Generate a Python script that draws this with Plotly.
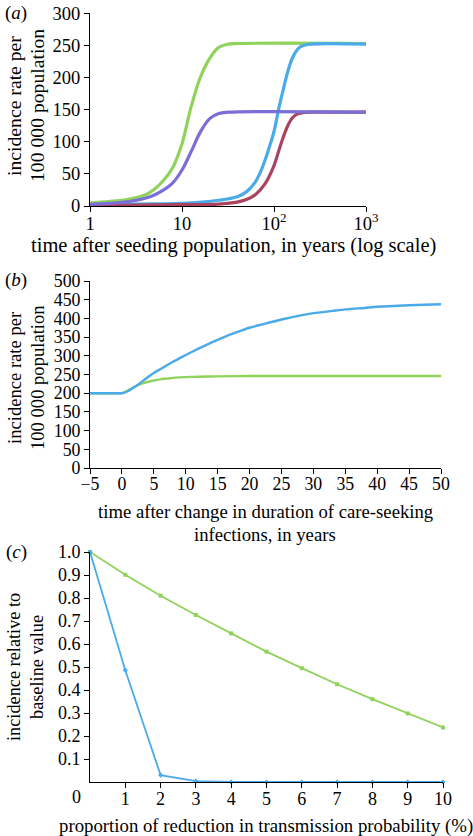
import plotly.graph_objects as go

W, H = 473, 836

# ---------------- data ----------------
# panel (a): incidence vs time after seeding (log scale)
a_green_t = [1, 1.58, 2.51, 3.98, 5.01, 6.31, 7.94, 10, 12.6, 15.8, 20, 25.1, 31.6, 39.8, 1000]
a_green_v = [5, 7, 10, 17, 26, 40, 60, 97, 155, 200, 230, 247, 252, 253, 253]
a_purple_t = [1, 1.58, 2.51, 3.98, 5.01, 6.31, 7.94, 10, 12.6, 15.8, 20, 25.1, 31.6, 1000]
a_purple_v = [2.6, 4, 6.5, 12, 17, 25, 36, 56, 85, 115, 136, 144, 146, 146]
a_blue_t = [1, 3.16, 10, 25.1, 39.8, 50.1, 63.1, 70.8, 79.4, 89.1, 100, 112, 126, 141, 158, 178, 200, 251, 1000]
a_blue_v = [1.5, 3, 4, 9, 14.5, 22, 38, 52, 70, 92, 116, 150, 181, 209, 230, 243, 249, 252, 252]
a_red_t = [1, 10, 25.1, 39.8, 50.1, 63.1, 79.4, 100, 112, 126, 141, 158, 178, 200, 251, 1000]
a_red_v = [0.5, 2, 3, 6, 10, 18, 34, 63, 85, 107, 125, 137, 143, 145, 146, 146]
a_xticks = [1, 10, 100, 1000]
a_xticktext = ["1", "10", "10<sup>2</sup>", "10<sup>3</sup>"]
a_yticks = [0, 50, 100, 150, 200, 250, 300]

# panel (b): incidence after change in duration of care-seeking infections
b_blue_t = [-5, -4, -3, -2, -1, 0, 1, 2, 3, 4, 5, 6, 7, 8, 9, 10, 12, 14, 16, 18, 20, 22, 25, 28, 30, 33, 35, 38, 40, 45, 50]
b_blue_v = [200, 200, 200, 200, 200, 200, 206, 217, 229, 242, 254, 264, 274, 284, 293, 302, 319, 335, 350, 363, 375, 384, 397, 408, 414, 420, 424, 428, 431, 435, 438]
b_green_t = [-5, -4, -3, -2, -1, 0, 1, 2, 3, 4, 5, 6, 7, 8, 10, 12, 15, 20, 30, 40, 50]
b_green_v = [200, 200, 200, 200, 200, 200, 208, 217, 225, 230, 234, 237, 239, 241, 243, 244, 245, 246, 246, 246, 246]
b_xticks = [-5, 0, 5, 10, 15, 20, 25, 30, 35, 40, 45, 50]
b_yticks = [0, 50, 100, 150, 200, 250, 300, 350, 400, 450, 500]

# panel (c): incidence relative to baseline vs reduction in transmission probability
c_x = [0, 1, 2, 3, 4, 5, 6, 7, 8, 9, 10]
c_green = [1.0, 0.901, 0.810, 0.726, 0.646, 0.567, 0.495, 0.425, 0.360, 0.298, 0.237]
c_blue = [1.0, 0.486, 0.030, 0.004, 0.0, 0.0, 0.0, 0.0, 0.0, 0.0, 0.0]
c_xticks = [1, 2, 3, 4, 5, 6, 7, 8, 9, 10]
c_yticks = [0.1, 0.2, 0.3, 0.4, 0.5, 0.6, 0.7, 0.8, 0.9, 1.0]

GREEN = "#8fd35a"
PURPLE = "#7a6fd8"
BLUE = "#4aaaea"
RED = "#a8445f"
FONT = "Liberation Serif"


def px_x(x):
    return x / W


def px_y(y):
    return 1 - y / H


fig = go.Figure()

# (a)
for t, v, c in [(a_green_t, a_green_v, GREEN), (a_blue_t, a_blue_v, BLUE),
                (a_red_t, a_red_v, RED), (a_purple_t, a_purple_v, PURPLE)]:
    fig.add_trace(go.Scatter(x=t, y=v, mode="lines", line=dict(color=c, width=3.2, shape="spline", smoothing=1.0),
                             xaxis="x", yaxis="y", showlegend=False, hoverinfo="skip"))
# (b)
for t, v, c in [(b_green_t, b_green_v, GREEN), (b_blue_t, b_blue_v, BLUE)]:
    fig.add_trace(go.Scatter(x=t, y=v, mode="lines", line=dict(color=c, width=2.4, shape="spline", smoothing=0.6),
                             xaxis="x2", yaxis="y2", showlegend=False, hoverinfo="skip"))
# (c)
fig.add_trace(go.Scatter(x=c_x, y=c_green, mode="lines+markers", line=dict(color=GREEN, width=1.8),
                         marker=dict(symbol="square", size=4, color=GREEN),
                         xaxis="x3", yaxis="y3", showlegend=False, hoverinfo="skip", cliponaxis=False))
fig.add_trace(go.Scatter(x=c_x, y=c_blue, mode="lines+markers", line=dict(color=BLUE, width=1.8),
                         marker=dict(symbol="diamond", size=4, color=BLUE),
                         xaxis="x3", yaxis="y3", showlegend=False, hoverinfo="skip", cliponaxis=False))


def axis(size, **kw):
    d = dict(showgrid=False, zeroline=False, showline=True, linecolor="black", linewidth=1,
             ticks="outside", ticklen=5, tickcolor="black", tickwidth=1, automargin=False,
             tickfont=dict(family=FONT, size=size, color="black"))
    d.update(kw)
    return d


fig.update_layout(
    template="none",
    width=W, height=H, margin=dict(l=0, r=0, t=0, b=0, autoexpand=False),
    paper_bgcolor="white", plot_bgcolor="white",
    font=dict(family=FONT, size=18, color="black"),
    xaxis=axis(18.5, type="log", range=[0, 3], tickvals=a_xticks, ticktext=a_xticktext,
               ticklabelstandoff=-4, domain=[px_x(90), px_x(366)], anchor="y"),
    yaxis=axis(18.5, range=[0, 300], tickvals=a_yticks,
               domain=[px_y(206), px_y(13.3)], anchor="x"),
    xaxis2=axis(17.8, range=[-5, 50], tickvals=b_xticks, ticklabelstandoff=-5,
                domain=[px_x(90), px_x(441)], anchor="y2"),
    yaxis2=axis(17.8, range=[0, 500], tickvals=b_yticks,
                domain=[px_y(468), px_y(281)], anchor="x2"),
    xaxis3=axis(18, range=[0, 10], tickvals=c_xticks, ticklabelstandoff=-5,
                domain=[px_x(90), px_x(443)], anchor="y3"),
    yaxis3=axis(18, range=[0, 1.0], tickvals=c_yticks, tickformat=".1f",
                domain=[px_y(782), px_y(552)], anchor="x3"),
)


def ann(text, x, y, size, angle=0):
    fig.add_annotation(text=text, x=px_x(x), y=px_y(y), xref="paper", yref="paper",
                       xanchor="center", yanchor="middle", showarrow=False, textangle=angle,
                       font=dict(family=FONT, size=size, color="black"))


# panel labels
ann("(<i>a</i>)", 16, 13, 19)
ann("(<i>b</i>)", 16, 280, 19)
ann("(<i>c</i>)", 16, 552, 19)

# y titles
ann("incidence rate per", 14, 106, 19.7, -90)
ann("100 000 population", 37, 106, 19.7, -90)
ann("incidence rate per", 14, 378, 18.6, -90)
ann("100 000 population", 37, 378, 18.6, -90)
ann("incidence relative to", 14, 667, 18.3, -90)
ann("baseline value", 37, 667, 18.3, -90)

# x titles
ann("time after seeding population, in years (log scale)", 233, 245, 20.5)
ann("time after change in duration of care-seeking", 265, 511, 18.7)
ann("infections, in years", 265, 534, 18.7)
ann("proportion of reduction in transmission probability (%)", 266, 826, 18.8)

# origin label of panel (c)
ann("0", 76, 797, 18)

fig.write_html("out.html", config={"displayModeBar": False},
               post_script="document.body.style.margin='0px';")
